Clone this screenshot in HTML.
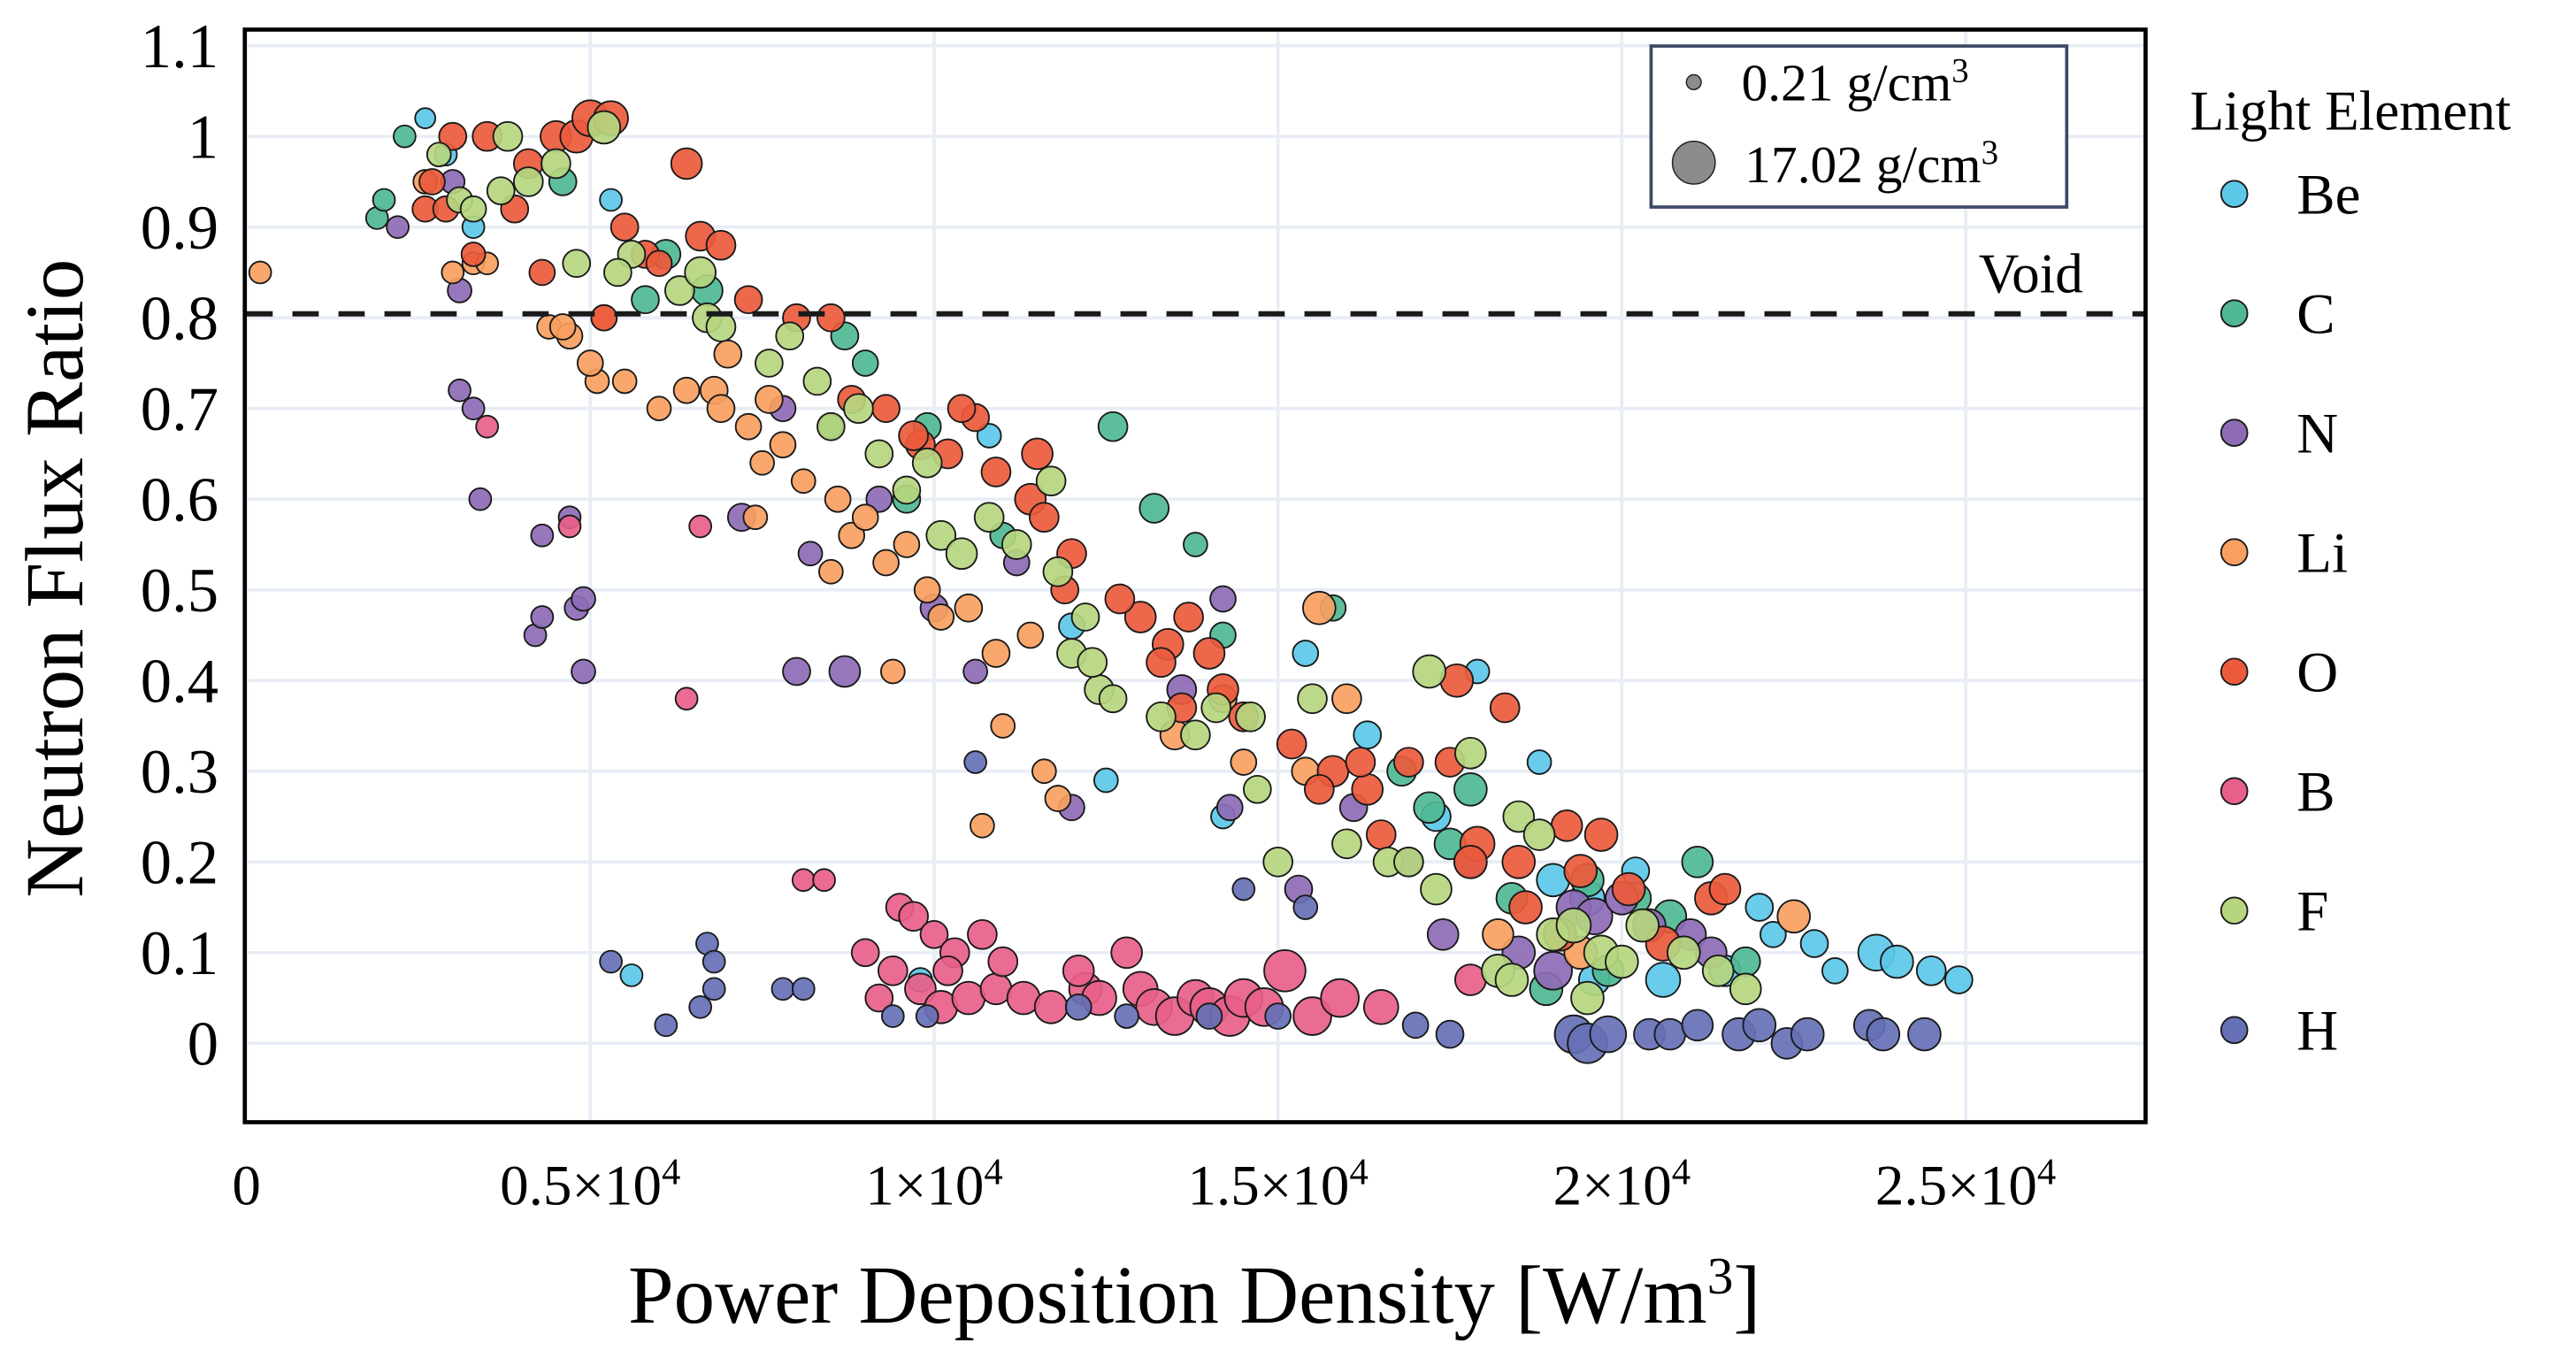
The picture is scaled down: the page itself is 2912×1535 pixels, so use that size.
<!DOCTYPE html>
<html><head><meta charset="utf-8"><style>
html,body{margin:0;padding:0;background:#fff;}
svg{display:block;font-family:"Liberation Serif",serif;}
</style></head><body>
<svg id="chart" width="2912" height="1535" viewBox="0 0 1568 826.5" xmlns="http://www.w3.org/2000/svg">
<g id="grid"></g>
<g id="marks"></g>
<line x1="150" x2="1306" y1="191" y2="191" stroke="#1a1a1a" stroke-width="3.2" stroke-dasharray="16,12"/>
<text x="1268" y="178" font-size="34" text-anchor="end">Void</text>
<rect x="149" y="18" width="1157" height="665" fill="none" stroke="#000" stroke-width="2.5"/>
<g id="ticks"></g>
<text transform="translate(50,352) rotate(-90)" font-size="50" text-anchor="middle">Neutron Flux Ratio</text>
<text x="727" y="805" font-size="50" text-anchor="middle">Power Deposition Density [W/m<tspan baseline-shift="super" font-size="32">3</tspan>]</text>
<g>
<rect x="1005" y="28" width="253" height="98" fill="#fff" stroke="#3d4a66" stroke-width="2"/>
<circle cx="1031" cy="50" r="4.5" fill="#8c8c8c" stroke="#222" stroke-width="0.8"/>
<text x="1060" y="61" font-size="32">0.21 g/cm<tspan baseline-shift="super" font-size="21">3</tspan></text>
<circle cx="1031" cy="99" r="13" fill="#8c8c8c" stroke="#222" stroke-width="0.8"/>
<text x="1062" y="111" font-size="32">17.02 g/cm<tspan baseline-shift="super" font-size="21">3</tspan></text>
</g>
<g id="legend">
<text x="1333" y="79" font-size="34">Light Element</text>
</g>
</svg>
<script>
const xTicks=[0,5000,10000,15000,20000,25000];
const xTickLabels=["0","0.5×10","1×10","1.5×10","2×10","2.5×10"];
const yTicks=[0,0.1,0.2,0.3,0.4,0.5,0.6,0.7,0.8,0.9,1,1.1];
const yTickLabels=["0","0.1","0.2","0.3","0.4","0.5","0.6","0.7","0.8","0.9","1","1.1"];
const elements=["Be","C","N","Li","O","B","F","H"];
const colors=["#5bc8e8","#4fb892","#8e6bb5","#f9a060","#ec5a3c","#e8608a","#b5d67f","#6670b5"];
// [x W/m3, flux ratio, density g/cm3]
const seriesBe=[[2600,1.02,2],[2900,0.98,3],[3300,0.9,3],[5300,0.93,3],[10800,0.67,4],[12000,0.46,5],[12500,0.29,4],[14200,0.25,4],[15400,0.43,5],[16300,0.34,6],[17900,0.41,4],[18800,0.31,4],[17300,0.25,7],[19000,0.18,9],[19500,0.16,10],[20200,0.19,6],[20600,0.07,10],[21500,0.08,8],[22000,0.15,6],[22200,0.12,5],[22800,0.11,6],[23100,0.08,5],[23700,0.1,11],[24000,0.09,9],[24500,0.08,7],[24900,0.07,6],[19600,0.07,8],[5600,0.075,3],[9800,0.07,4]];
const seriesC=[[1900,0.91,3],[2000,0.93,3],[2300,1.0,3],[4600,0.95,6],[5800,0.82,6],[6100,0.87,7],[6700,0.83,8],[8500,0.68,4],[8700,0.78,6],[9000,0.75,5],[9600,0.6,6],[11000,0.56,5],[12600,0.68,7],[13200,0.59,7],[13800,0.55,4],[14200,0.45,5],[15800,0.48,5],[16800,0.3,7],[17200,0.26,8],[17500,0.22,8],[17800,0.28,9],[18400,0.16,8],[18900,0.06,9],[19500,0.18,9],[20200,0.16,8],[20700,0.14,9],[21100,0.2,8],[21800,0.09,7],[19800,0.08,8],[9900,0.68,6]];
const seriesN=[[2200,0.9,3],[3000,0.95,4],[3100,0.72,3],[3300,0.7,3],[3400,0.6,3],[3100,0.83,4],[4200,0.45,3],[4300,0.47,3],[4300,0.56,3],[4700,0.58,3],[4800,0.48,4],[4900,0.49,4],[4900,0.41,4],[7200,0.58,6],[7800,0.7,5],[8000,0.41,6],[8200,0.54,4],[8700,0.41,8],[9200,0.6,5],[10000,0.48,6],[10600,0.41,4],[11200,0.53,5],[12000,0.26,5],[13600,0.39,7],[14300,0.26,5],[14200,0.49,5],[16100,0.26,6],[16900,0.2,7],[17400,0.12,8],[17800,0.2,9],[18500,0.1,9],[19000,0.08,12],[19300,0.15,10],[19600,0.14,11],[20000,0.16,9],[20400,0.13,9],[21000,0.12,8],[21300,0.1,8],[15300,0.17,6]];
const seriesLi=[[200,0.85,3],[2600,0.95,4],[3000,0.85,3],[3300,0.86,3],[3500,0.86,3],[4400,0.79,4],[4700,0.78,5],[5100,0.73,4],[5500,0.73,4],[6000,0.7,4],[6400,0.72,5],[6800,0.72,6],[6900,0.7,6],[5200,0.8,5],[5000,0.75,5],[4600,0.79,5],[7000,0.76,6],[7300,0.68,5],[7500,0.64,4],[7400,0.58,4],[7800,0.66,5],[8100,0.62,4],[8600,0.6,5],[8800,0.56,5],[9000,0.58,5],[9300,0.53,5],[9600,0.55,5],[9900,0.5,5],[10100,0.47,5],[10500,0.48,6],[10900,0.43,6],[11400,0.45,5],[11000,0.35,4],[10700,0.24,4],[11600,0.3,4],[11800,0.27,5],[13500,0.34,7],[14200,0.38,6],[14500,0.31,5],[15600,0.48,9],[16000,0.38,7],[15400,0.3,6],[18200,0.12,8],[19400,0.1,9],[22500,0.14,9],[8500,0.52,4],[9400,0.41,4],[7600,0.71,6]];
const seriesO=[[2600,0.92,5],[2700,0.95,5],[2900,0.92,5],[3000,1.0,6],[3500,1.0,7],[3900,0.92,6],[4100,0.97,7],[4500,1.0,8],[4800,1.0,9],[5000,1.02,11],[5300,1.02,10],[5500,0.9,6],[5800,0.87,6],[6400,0.97,8],[6600,0.89,7],[6900,0.88,7],[7300,0.82,6],[8000,0.8,6],[8500,0.8,6],[4300,0.85,5],[3300,0.87,4],[6000,0.86,5],[5200,0.8,5],[9300,0.7,6],[9800,0.66,7],[10200,0.65,7],[10600,0.69,6],[10900,0.63,7],[11400,0.6,8],[11600,0.58,7],[12000,0.54,7],[11900,0.5,6],[13000,0.47,8],[13400,0.44,8],[13700,0.47,7],[14000,0.43,8],[13300,0.42,7],[13600,0.37,7],[14200,0.39,8],[14500,0.36,7],[15200,0.33,7],[15800,0.3,8],[16300,0.28,8],[16900,0.31,7],[17600,0.4,9],[17500,0.31,7],[17900,0.22,10],[18500,0.2,9],[18300,0.37,7],[17800,0.2,9],[19200,0.24,8],[19700,0.23,9],[19400,0.19,9],[20100,0.17,9],[20600,0.11,10],[21300,0.16,9],[21500,0.17,8],[18600,0.15,9],[19100,0.12,9],[16500,0.23,7],[16200,0.31,7],[15600,0.28,7],[12700,0.49,7],[11500,0.65,8],[10400,0.7,6],[9700,0.67,7],[8800,0.71,6]];
const seriesB=[[6400,0.38,3],[6600,0.57,3],[4700,0.57,3],[3500,0.68,3],[8100,0.18,3],[8400,0.18,3],[9000,0.1,6],[9400,0.08,7],[9500,0.15,6],[9700,0.14,7],[10000,0.12,6],[10300,0.1,7],[10700,0.12,7],[9800,0.06,8],[10100,0.04,9],[10500,0.05,9],[10900,0.06,8],[11300,0.05,9],[11700,0.04,9],[12200,0.06,9],[12400,0.05,10],[12800,0.1,8],[13000,0.06,10],[13200,0.04,11],[13500,0.03,12],[13800,0.05,11],[14000,0.04,12],[14300,0.03,13],[14500,0.05,12],[14800,0.04,12],[15100,0.08,14],[15500,0.03,12],[15900,0.05,12],[16500,0.04,10],[17800,0.07,8],[12100,0.08,8],[11000,0.09,7],[9200,0.05,6],[10200,0.08,7]];
const seriesF=[[2800,0.98,4],[3100,0.93,5],[3300,0.92,5],[3800,1.0,7],[3700,0.94,6],[4100,0.95,7],[4500,0.97,7],[5200,1.01,9],[5600,0.87,6],[4800,0.86,6],[5400,0.85,6],[6300,0.83,7],[6700,0.8,7],[6600,0.85,8],[6900,0.79,7],[7600,0.75,6],[7900,0.78,6],[8300,0.73,6],[8500,0.68,6],[8900,0.7,7],[9200,0.65,6],[9600,0.61,6],[9900,0.64,7],[10100,0.56,7],[10400,0.54,8],[10800,0.58,7],[11200,0.55,7],[11800,0.52,7],[12000,0.43,7],[12400,0.39,7],[12600,0.38,6],[12200,0.47,6],[13300,0.36,7],[13800,0.34,7],[14100,0.37,7],[14600,0.36,7],[15000,0.2,7],[15500,0.38,7],[16000,0.22,7],[16600,0.2,7],[17200,0.41,9],[17300,0.17,8],[17800,0.32,8],[18200,0.08,9],[18500,0.25,8],[18800,0.23,8],[19000,0.12,9],[19300,0.13,10],[19700,0.1,10],[19500,0.05,9],[20000,0.09,9],[20300,0.13,9],[20900,0.1,9],[21400,0.08,8],[21800,0.06,8],[18400,0.07,9],[11700,0.62,7],[12300,0.42,7],[14700,0.28,6],[16900,0.2,7]];
const seriesH=[[5300,0.09,3],[6100,0.02,3],[6700,0.11,3],[6800,0.09,3],[6800,0.06,3],[6600,0.04,3],[7800,0.06,3],[8100,0.06,3],[9400,0.03,3],[9900,0.03,3],[10600,0.31,3],[12800,0.03,4],[14500,0.17,3],[15000,0.03,5],[15400,0.15,4],[17000,0.02,5],[17500,0.01,6],[19300,0.01,12],[19500,0.0,13],[19800,0.01,11],[20400,0.01,8],[20700,0.01,8],[21100,0.02,8],[21700,0.01,9],[22000,0.02,9],[22400,0.0,8],[22700,0.01,9],[23600,0.02,8],[23800,0.01,9],[24400,0.01,9],[14000,0.03,5],[12100,0.04,5]];
const allSeries=[seriesBe,seriesC,seriesN,seriesLi,seriesO,seriesB,seriesF,seriesH];

const NS="http://www.w3.org/2000/svg";
const X0=150,XPER=418.6/10000,Y0=635,YPER=552;
function xs(v){return X0+v*XPER;}
function ys(v){return Y0-v*YPER;}
function rs(d){return 5.2+9*(d-0.21)/16.81;}
function mk(tag,attrs,parent){const e=document.createElementNS(NS,tag);for(const k in attrs)e.setAttribute(k,attrs[k]);parent.appendChild(e);return e;}
const grid=document.getElementById('grid'),ticks=document.getElementById('ticks'),marks=document.getElementById('marks'),legend=document.getElementById('legend');
xTicks.forEach((t,i)=>{
  const l=mk('line',{x1:xs(t),x2:xs(t),y1:18,y2:683,stroke:'#e8edf5','stroke-width':2},grid);
  
  
  const tx=mk('text',{x:xs(t),y:733,'font-size':35,'text-anchor':'middle'},ticks);
  
  
  tx.textContent=xTickLabels[i];
  if(i>0){const sp=document.createElementNS(NS,'tspan');sp.setAttribute('baseline-shift','super');sp.setAttribute('font-size','23');sp.textContent='4';tx.appendChild(sp);}
});
yTicks.forEach((t,i)=>{
  const l=mk('line',{x1:149,x2:1306,y1:ys(t),y2:ys(t),stroke:'#e8edf5','stroke-width':2},grid);
  
  
  const tx=mk('text',{x:133,y:ys(t)+13,'font-size':38,'text-anchor':'end'},ticks);
  
  
  tx.textContent=yTickLabels[i];
});
allSeries.forEach((s,si)=>{
  s.forEach(p=>{
    const c=mk('circle',{cx:xs(p[0]),cy:ys(p[1]),r:rs(p[2]),fill:colors[si],'fill-opacity':0.92,stroke:'#1a1a1a','stroke-width':1},marks);
    
    
  });
});
elements.forEach((el,i)=>{
  const y=118+i*72.7;
  const c=mk('circle',{cx:1360,cy:y,r:8,fill:colors[i],stroke:'#1a1a1a','stroke-width':1},legend);
  
  
  const t=mk('text',{x:1398,y:y+12,'font-size':35},legend);
  
  
  t.textContent=el;
});
</script>
</body></html>
